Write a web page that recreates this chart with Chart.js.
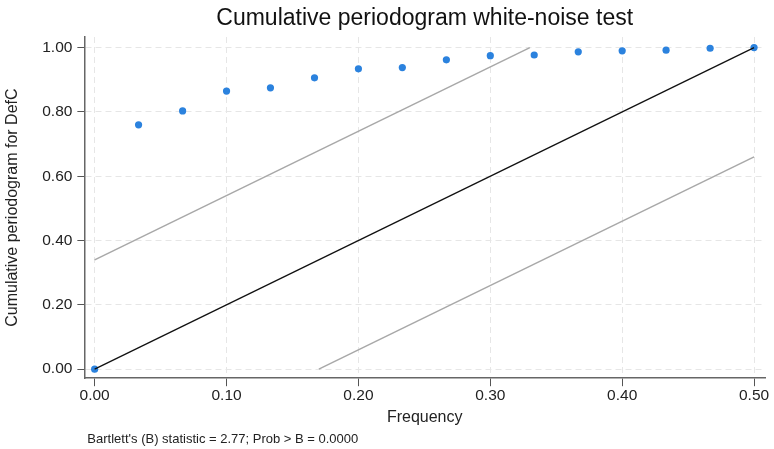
<!DOCTYPE html>
<html>
<head>
<meta charset="utf-8">
<script src="https://cdn.jsdelivr.net/npm/chart.js@4"></script>
<style>
  html, body { margin: 0; padding: 0; background: #fff; }
  #wrap { width: 774px; height: 449px; }
</style>
</head>
<body>
<div id="wrap"><canvas id="chart"></canvas></div>
<script>
// ===== data =====
const freq = [0, 0.0333, 0.0667, 0.1, 0.1333, 0.1667, 0.2, 0.2333, 0.2667, 0.3, 0.3333, 0.3667, 0.4, 0.4333, 0.4667, 0.5];
const cumPgram = [0, 0.760, 0.803, 0.865, 0.875, 0.906, 0.934, 0.938, 0.962, 0.975, 0.977, 0.987, 0.990, 0.992, 0.998, 1.0];
const diagX = [0, 0.5];
const diagY = [0, 1.0];
const upperX = [0, 0.33];
const upperY = [0.34, 1.0];
const lowerX = [0.17, 0.5];
const lowerY = [0, 0.66];
const xTicks = [0, 0.1, 0.2, 0.3, 0.4, 0.5];
const yTicks = [0, 0.2, 0.4, 0.6, 0.8, 1.0];
const chartTitle = 'Cumulative periodogram white-noise test';
const footnote = "Bartlett's (B) statistic = 2.77; Prob > B = 0.0000";

const FONT = '"Liberation Sans", Arial, Helvetica, sans-serif';
const pts = (xs, ys) => xs.map((x, i) => ({ x: x, y: ys[i] }));

// title centred over the plot area + footnote under the x axis title
const textPlugin = {
    id: 'textPlugin',
    afterDraw(chart) {
        const ctx = chart.ctx;
        const area = chart.chartArea;
        ctx.save();
        ctx.textBaseline = 'middle';
        ctx.fillStyle = '#111';
        ctx.font = '23px ' + FONT;
        ctx.textAlign = 'center';
        ctx.fillText(chartTitle, (area.left + area.right) / 2, 19);
        ctx.font = '13px ' + FONT;
        ctx.fillStyle = '#222';
        ctx.textAlign = 'left';
        ctx.fillText(footnote, area.left + 3, 439.5);
        ctx.restore();
    }
};

function axisCommon(ticks) {
    return {
        type: 'linear',
        afterBuildTicks: (axis) => { axis.ticks = ticks.map(v => ({ value: v })); },
        grid: {
            color: '#e6e6e6',
            lineWidth: 1,
            drawOnChartArea: true,
            tickLength: 8,
            tickColor: '#555',
            tickWidth: 1,
            tickBorderDash: []
        },
        border: { display: true, color: '#666', width: 1.5, dash: [6, 4] },
        ticks: {
            color: '#222',
            font: { family: FONT, size: 15.5 },
            padding: 4,
            callback: (v) => Number(v).toFixed(2)
        }
    };
}

const xScale = axisCommon(xTicks);
xScale.min = -0.0078;
xScale.max = 0.5083;
xScale.ticks.maxRotation = 0;
xScale.ticks.padding = 0;
xScale.title = { display: true, text: 'Frequency', color: '#222', font: { family: FONT, size: 16 }, padding: { top: 3, bottom: 0 } };

const yScale = axisCommon(yTicks);
yScale.min = -0.028;
yScale.max = 1.033;
yScale.grid.tickLength = 7;
yScale.ticks.padding = 5;
yScale.title = { display: true, text: 'Cumulative periodogram for DefC', color: '#222', font: { family: FONT, size: 16 }, padding: { top: 0, bottom: 15 } };

new Chart(document.getElementById('chart'), {
    type: 'scatter',
    data: {
        datasets: [
            {
                label: 'upper band',
                type: 'line',
                data: pts(upperX, upperY),
                borderColor: '#a8a8a8',
                borderWidth: 1.5,
                pointRadius: 0,
                fill: false
            },
            {
                label: 'lower band',
                type: 'line',
                data: pts(lowerX, lowerY),
                borderColor: '#a8a8a8',
                borderWidth: 1.5,
                pointRadius: 0,
                fill: false
            },
            {
                label: 'diagonal',
                type: 'line',
                data: pts(diagX, diagY),
                borderColor: '#111',
                borderWidth: 1.3,
                pointRadius: 0,
                fill: false
            },
            {
                label: 'cumulative periodogram',
                data: pts(freq, cumPgram),
                backgroundColor: '#2b82de',
                borderColor: '#2b82de',
                pointRadius: 3.6,
                pointBorderWidth: 0
            }
        ]
    },
    options: {
        responsive: true,
        maintainAspectRatio: false,
        animation: false,
        layout: { padding: { left: 3, right: 9, top: 37, bottom: 22 } },
        plugins: {
            legend: { display: false },
            tooltip: { enabled: false },
            title: { display: false }
        },
        scales: { x: xScale, y: yScale }
    },
    plugins: [textPlugin]
});
</script>
</body>
</html>
